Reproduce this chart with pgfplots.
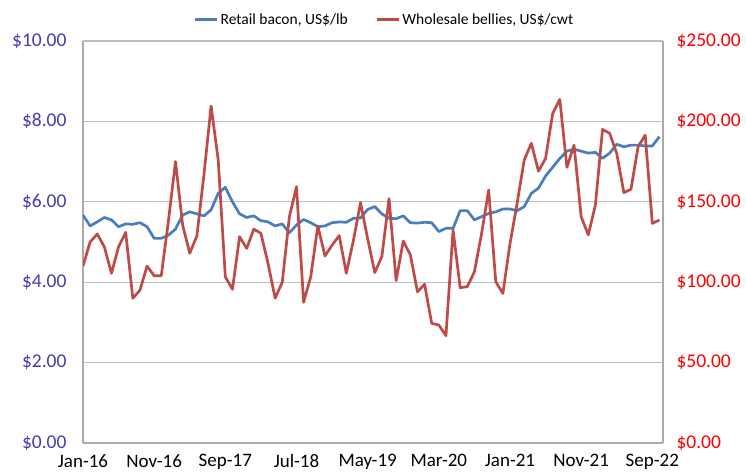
\documentclass[border=0pt]{standalone}
\usepackage{pgfplots}
\usepackage{pgfplotstable}
\pgfplotsset{compat=1.18}
\usepackage{fontspec}
\setmainfont{Carlito}
\definecolor{bacon}{RGB}{74,126,187}
\definecolor{belly}{RGB}{190,75,72}
\definecolor{lefttick}{RGB}{70,60,175}
\definecolor{righttick}{RGB}{255,0,0}
\definecolor{gridc}{RGB}{190,190,190}
\definecolor{axisc}{RGB}{170,170,170}

\pgfplotstableread{
m v
0 5.67
1 5.40
2 5.50
3 5.61
4 5.55
5 5.38
6 5.45
7 5.44
8 5.48
9 5.38
10 5.09
11 5.09
12 5.17
13 5.32
14 5.67
15 5.75
16 5.70
17 5.65
18 5.80
19 6.21
20 6.36
21 6.00
22 5.70
23 5.61
24 5.65
25 5.53
26 5.50
27 5.40
28 5.45
29 5.23
30 5.42
31 5.56
32 5.48
33 5.38
34 5.40
35 5.48
36 5.50
37 5.49
38 5.59
39 5.60
40 5.81
41 5.88
42 5.70
43 5.59
44 5.58
45 5.65
46 5.48
47 5.47
48 5.49
49 5.48
50 5.26
51 5.34
52 5.34
53 5.78
54 5.78
55 5.55
56 5.63
57 5.71
58 5.75
59 5.82
60 5.82
61 5.78
62 5.88
63 6.21
64 6.34
65 6.64
66 6.86
67 7.08
68 7.26
69 7.31
70 7.26
71 7.21
72 7.23
73 7.08
74 7.21
75 7.43
76 7.37
77 7.41
78 7.41
79 7.39
80 7.39
81 7.62
}\bacontable

\pgfplotstableread{
m v
0 110
1 125
2 130
3 122
4 105.5
5 122
6 131
7 90
8 95
9 110
10 104
11 104
12 138
13 175
14 135.6
15 118
16 128.7
17 167
18 209.6
19 176
20 103.4
21 95.6
22 128.3
23 121
24 133
25 130.4
26 111.7
27 90
28 100
29 140.7
30 159.4
31 87.5
32 103.4
33 135
34 116.3
35 123
36 129
37 105.5
38 126
39 149.5
40 127
41 106
42 116
43 152
44 101
45 125.6
46 117
47 94
48 98.7
49 74.4
50 73.4
51 66.7
52 132.5
53 96.6
54 97.2
55 106.5
56 130
57 157.3
58 100.3
59 93
60 124
61 149
62 176
63 186.4
64 169
65 177
66 205
67 213.7
68 171.4
69 185.3
70 140.7
71 129.4
72 148
73 195
74 192.6
75 180
76 155.7
77 157.8
78 184.3
79 191.5
80 136.6
81 138.7
}\bellytable

\begin{document}
\begin{tikzpicture}
\pgfplotsset{
  common/.style={
    scale only axis,
    width=580bp, height=402bp,
    at={(0,0)}, anchor=south west,
    xmin=0, xmax=81.5,
    tick style={draw=none},
    axis line style={draw=axisc, line width=1.2bp},
  }
}
\begin{axis}[
  common,
  axis x line*=bottom,
  axis y line*=left,
  ymin=0, ymax=10,
  ytick={0,2,4,6,8,10},
  yticklabels={\$0.00,\$2.00,\$4.00,\$6.00,\$8.00,\$10.00},
  yticklabel style={font=\fontsize{19.5bp}{21bp}\selectfont, text=lefttick},
  yticklabel shift=13bp,
  ymajorgrids,
  grid style={draw=gridc, line width=1.2bp},
  xtick={0,10,20,30,40,50,60,70,80},
  xticklabels={Jan-16,Nov-16,Sep-17,Jul-18,May-19,Mar-20,Jan-21,Nov-21,Sep-22},
  xticklabel style={font=\fontsize{19bp}{20bp}\selectfont, text=black},
  xticklabel shift=8bp,
]
\addplot[color=bacon, line width=2.7bp, line join=round] table[x=m,y=v] {\bacontable};
\end{axis}
\begin{axis}[
  common,
  axis x line=none,
  axis y line*=right,
  ymin=0, ymax=250,
  ytick={0,50,100,150,200,250},
  yticklabels={\$0.00,\$50.00,\$100.00,\$150.00,\$200.00,\$250.00},
  yticklabel style={font=\fontsize{19.5bp}{21bp}\selectfont, text=righttick},
  yticklabel shift=10bp,
  legend style={
    at={(0.52,1)}, anchor=south, yshift=13bp,
    draw=none, fill=none,
    font=\fontsize{15.5bp}{17bp}\selectfont,
    legend columns=2,
    /tikz/every even column/.append style={column sep=26bp},
    inner sep=0pt,
  },
  legend image code/.code={\draw[#1] (0bp,0bp) -- (22bp,0bp);},
]
\addlegendimage{color=bacon, line width=2.7bp}
\addlegendentry{Retail bacon, US\$/lb}
\addplot[color=belly, line width=2.7bp, line join=round] table[x=m,y=v] {\bellytable};
\addlegendentry{Wholesale bellies, US\$/cwt}
\end{axis}
\pgfresetboundingbox
\path[use as bounding box] (-83bp,-33bp) rectangle (663bp,443bp);
\end{tikzpicture}
\end{document}
